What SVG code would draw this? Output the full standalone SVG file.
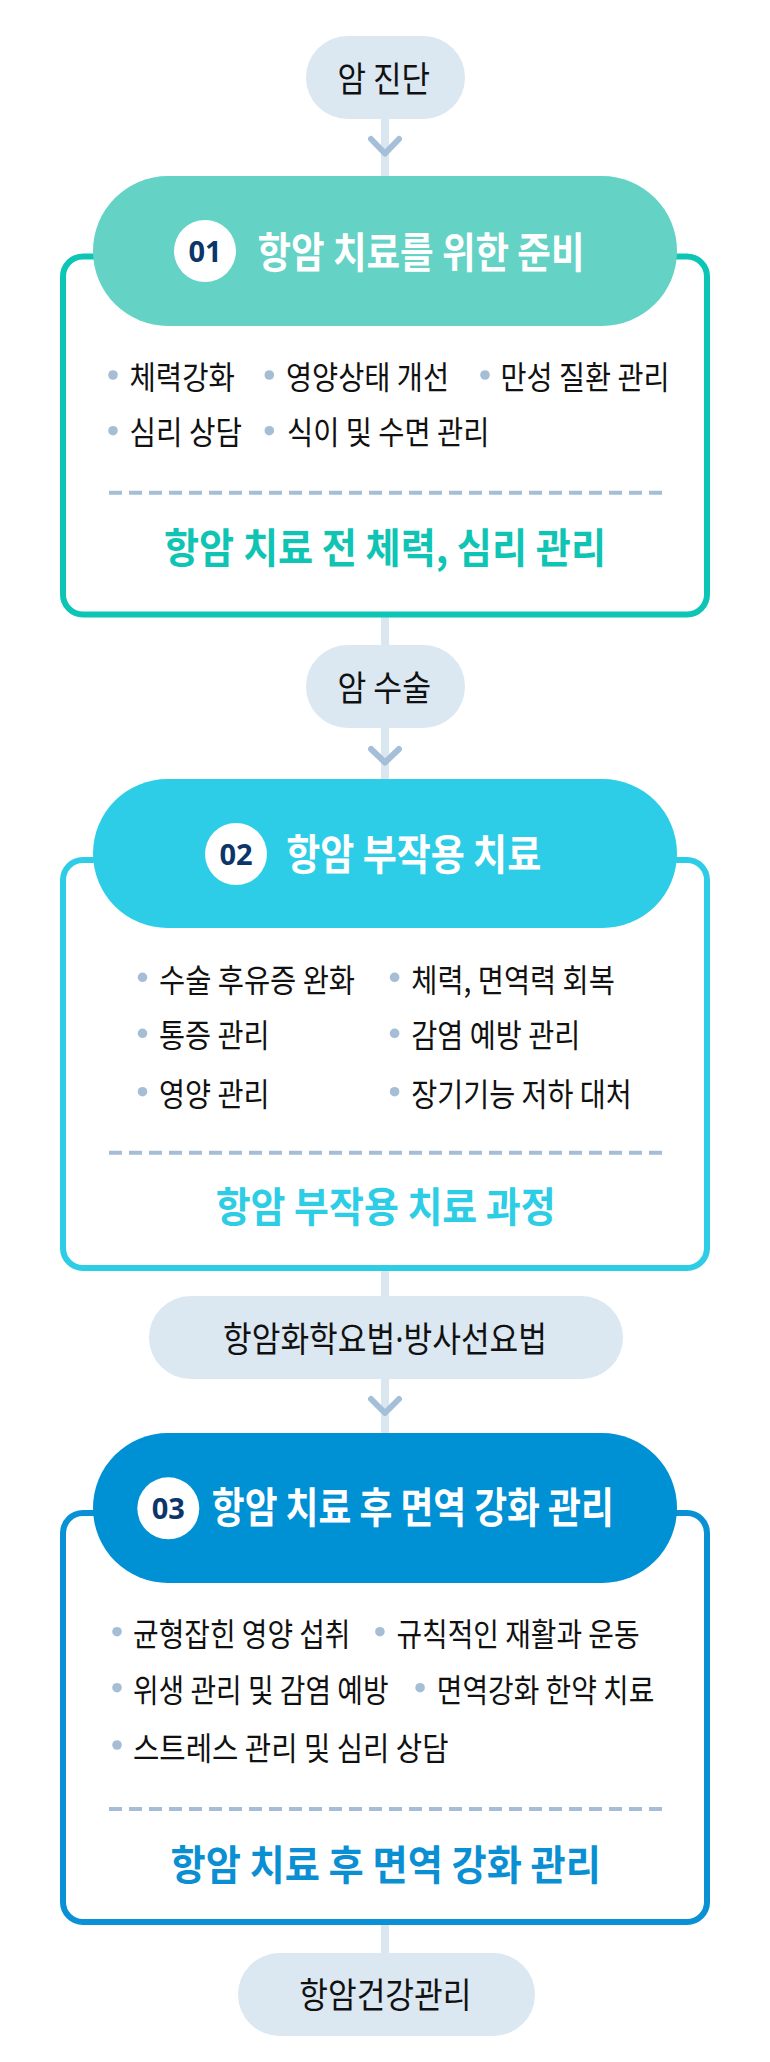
<svg xmlns="http://www.w3.org/2000/svg" width="770" height="2062" viewBox="0 0 770 2062">
<style>
text{font-family:"Noto Sans CJK KR","Noto Sans",sans-serif;}
.pill{fill:#dbe7f1;}
.pt{font-size:35px;fill:#111;}
.conn{stroke:#dae6f0;stroke-width:8;fill:none;}
.chev{stroke:#a4bfd7;stroke-width:6;fill:none;stroke-linecap:round;stroke-linejoin:round;}
.box{fill:#fff;stroke-width:6;}
.ttl{font-size:42px;font-weight:700;fill:#fff;}
.num{font-family:"Noto Sans","Liberation Sans",sans-serif;font-size:29px;font-weight:700;fill:#0c356a;text-anchor:middle;}
.it{font-size:32px;fill:#111;}
.dot{fill:#a5bed5;}
.dash{stroke:#a5bed5;stroke-width:4;stroke-dasharray:13 7;}
.ft{font-size:41px;font-weight:700;}
.mix{font-family:"Noto Sans","Noto Sans CJK KR",sans-serif;}
</style>
<rect width="770" height="2062" fill="#fff"/>
<g id="connectors">
<line class="conn" x1="385" y1="110" x2="385" y2="190"/>
<line class="conn" x1="385" y1="610" x2="385" y2="655"/>
<line class="conn" x1="385" y1="720" x2="385" y2="790"/>
<line class="conn" x1="385" y1="1265" x2="385" y2="1305"/>
<line class="conn" x1="385" y1="1370" x2="385" y2="1445"/>
<line class="conn" x1="385" y1="1918" x2="385" y2="1960"/>
<path class="chev" d="M371 139 L385 153.5 L399 139"/>
<path class="chev" d="M371 749 L385 762.5 L399 749"/>
<path class="chev" d="M371 1399 L385 1413 L399 1399"/>
</g>
<g id="start">
<rect class="pill" x="306" y="36" width="159" height="83" rx="41.5"/>
<text class="pt" x="337.5" y="91.5" textLength="92.5" lengthAdjust="spacingAndGlyphs">암 진단</text>
</g>
<g id="step1">
<rect class="box" x="63" y="256.5" width="644" height="358" rx="20" stroke="#0cc5b4"/>
<rect x="93" y="176" width="584" height="150" rx="75" fill="#64d2c4"/>
<circle cx="205" cy="251" r="31" fill="#fff"/>
<text class="num" x="205" y="261.5">01</text>
<text class="ttl" x="257.5" y="267.5" textLength="327" lengthAdjust="spacingAndGlyphs">항암 치료를 위한 준비</text>
<circle class="dot" cx="113" cy="375" r="4.8"/>
<text class="it" x="129.5" y="388.5" textLength="105.5" lengthAdjust="spacingAndGlyphs">체력강화</text>
<circle class="dot" cx="269.3" cy="375" r="4.8"/>
<text class="it" x="286" y="388.5" textLength="163" lengthAdjust="spacingAndGlyphs">영양상태 개선</text>
<circle class="dot" cx="485" cy="375" r="4.8"/>
<text class="it" x="500.5" y="388.5" textLength="169" lengthAdjust="spacingAndGlyphs">만성 질환 관리</text>
<circle class="dot" cx="113" cy="430.7" r="4.8"/>
<text class="it" x="129.5" y="443.5" textLength="112.5" lengthAdjust="spacingAndGlyphs">심리 상담</text>
<circle class="dot" cx="269.3" cy="430.7" r="4.8"/>
<text class="it" x="287" y="443.5" textLength="202.5" lengthAdjust="spacingAndGlyphs">식이 및 수면 관리</text>
<line class="dash" x1="109" y1="492.7" x2="663" y2="492.7"/>
<text class="ft" x="164" y="563" textLength="442" lengthAdjust="spacingAndGlyphs" fill="#0fc4b3">항암 치료 전 체력, 심리 관리</text>
</g>
<g id="surgery">
<rect class="pill" x="306" y="645" width="159" height="83" rx="41.5"/>
<text class="pt" x="337.5" y="701" textLength="93.5" lengthAdjust="spacingAndGlyphs">암 수술</text>
</g>
<g id="step2">
<rect class="box" x="63" y="860" width="644" height="408" rx="20" stroke="#2ecde6"/>
<rect x="93" y="779" width="584" height="149" rx="74.5" fill="#2dcde7"/>
<circle cx="236" cy="854" r="31" fill="#fff"/>
<text class="num" x="236" y="864.5">02</text>
<text class="ttl" x="286.2" y="870" textLength="255" lengthAdjust="spacingAndGlyphs">항암 부작용 치료</text>
<circle class="dot" cx="142.5" cy="977.3" r="4.8"/>
<text class="it" x="159" y="991.5" textLength="196" lengthAdjust="spacingAndGlyphs">수술 후유증 완화</text>
<circle class="dot" cx="394.6" cy="977.3" r="4.8"/>
<text class="it" x="411.3" y="991.5" textLength="203.5" lengthAdjust="spacingAndGlyphs">체력, 면역력 회복</text>
<circle class="dot" cx="142.5" cy="1033.3" r="4.8"/>
<text class="it" x="159" y="1047" textLength="110.5" lengthAdjust="spacingAndGlyphs">통증 관리</text>
<circle class="dot" cx="394.6" cy="1033.3" r="4.8"/>
<text class="it" x="411.3" y="1047" textLength="169" lengthAdjust="spacingAndGlyphs">감염 예방 관리</text>
<circle class="dot" cx="142.5" cy="1091.7" r="4.8"/>
<text class="it" x="159" y="1105.5" textLength="110.5" lengthAdjust="spacingAndGlyphs">영양 관리</text>
<circle class="dot" cx="394.6" cy="1091.7" r="4.8"/>
<text class="it" x="411.3" y="1105.5" textLength="220.5" lengthAdjust="spacingAndGlyphs">장기기능 저하 대처</text>
<line class="dash" x1="109" y1="1152.7" x2="663" y2="1152.7"/>
<text class="ft" x="215.7" y="1222" textLength="340" lengthAdjust="spacingAndGlyphs" fill="#2ecde6">항암 부작용 치료 과정</text>
</g>
<g id="chemo">
<rect class="pill" x="149" y="1296" width="474" height="83" rx="41.5"/>
<text class="pt mix" x="223" y="1351.5" textLength="324" lengthAdjust="spacingAndGlyphs">항암화학요법·방사선요법</text>
</g>
<g id="step3">
<rect class="box" x="63" y="1513" width="644" height="409" rx="20" stroke="#0a90d4"/>
<rect x="93" y="1433" width="584" height="150" rx="75" fill="#0090d4"/>
<circle cx="168.3" cy="1508.3" r="31" fill="#fff"/>
<text class="num" x="168.3" y="1518.5">03</text>
<text class="ttl" x="211.8" y="1523" textLength="402" lengthAdjust="spacingAndGlyphs">항암 치료 후 면역 강화 관리</text>
<circle class="dot" cx="117" cy="1631.7" r="4.8"/>
<text class="it" x="133" y="1645.5" textLength="217.5" lengthAdjust="spacingAndGlyphs">균형잡힌 영양 섭취</text>
<circle class="dot" cx="379.9" cy="1631.7" r="4.8"/>
<text class="it" x="396.5" y="1645.5" textLength="243" lengthAdjust="spacingAndGlyphs">규칙적인 재활과 운동</text>
<circle class="dot" cx="117" cy="1687.7" r="4.8"/>
<text class="it" x="133" y="1701.5" textLength="255.5" lengthAdjust="spacingAndGlyphs">위생 관리 및 감염 예방</text>
<circle class="dot" cx="420.1" cy="1687.7" r="4.8"/>
<text class="it" x="436.8" y="1701.5" textLength="217.5" lengthAdjust="spacingAndGlyphs">면역강화 한약 치료</text>
<circle class="dot" cx="117" cy="1745" r="4.8"/>
<text class="it" x="133" y="1759.5" textLength="315.5" lengthAdjust="spacingAndGlyphs">스트레스 관리 및 심리 상담</text>
<line class="dash" x1="109" y1="1809" x2="663" y2="1809"/>
<text class="ft" x="170.5" y="1880" textLength="430.5" lengthAdjust="spacingAndGlyphs" fill="#0a8fd3">항암 치료 후 면역 강화 관리</text>
</g>
<g id="end">
<rect class="pill" x="238" y="1953" width="297" height="83" rx="41.5"/>
<text class="pt" x="299.3" y="2008" textLength="172" lengthAdjust="spacingAndGlyphs">항암건강관리</text>
</g>
</svg>
